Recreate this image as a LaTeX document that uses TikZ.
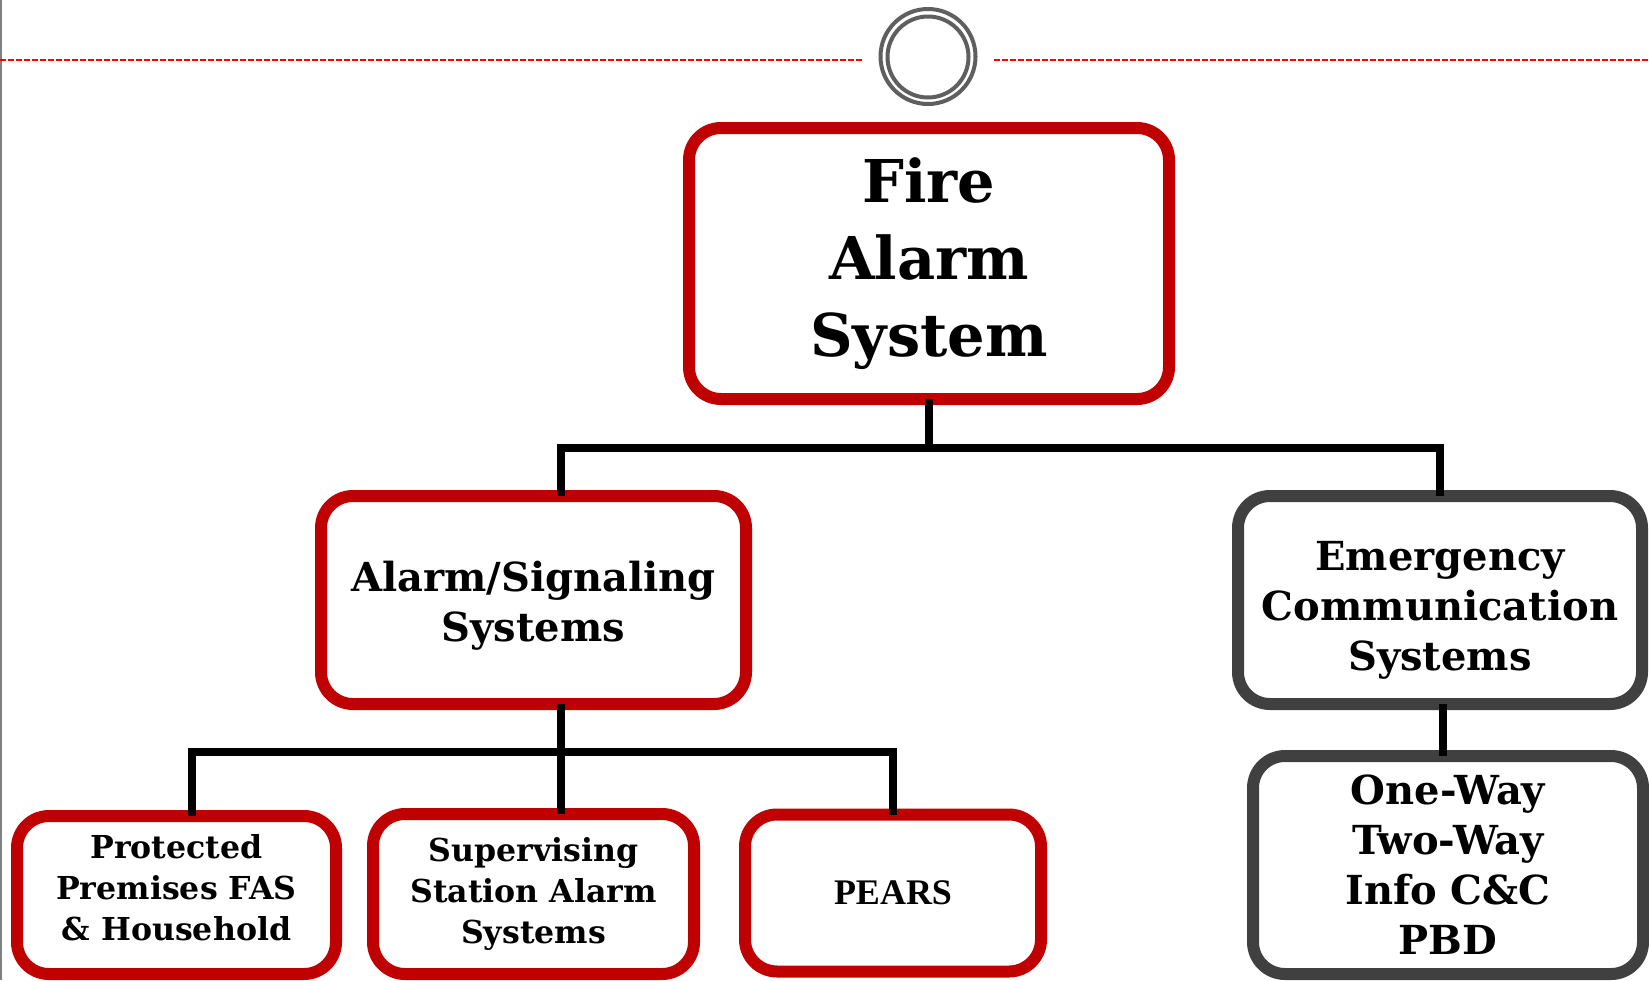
\documentclass[tikz,border=0pt]{standalone}
\usepackage{fontspec}
\setmainfont{DejaVu Serif}
\newfontfamily\timesfont{Liberation Serif}
\usetikzlibrary{positioning}

\definecolor{boxred}{HTML}{C00000}
\definecolor{boxgrey}{HTML}{404040}
\definecolor{ringgrey}{HTML}{5F5F5F}
\definecolor{rulered}{HTML}{FF0000}

\tikzset{
  redbox/.style={draw=boxred, line width=6pt, rounded corners=16pt, fill=white,
    align=center, outer sep=0pt, inner sep=0pt},
  greybox/.style={redbox, draw=boxgrey},
  conn/.style={line width=4pt, black},
  bigtext/.style={font=\fontsize{29.5}{38.5}\selectfont\bfseries},
  midtext/.style={font=\fontsize{20}{25}\selectfont\bfseries},
  smalltext/.style={font=\fontsize{15.8}{20.5}\selectfont\bfseries},
}

\begin{document}
\begin{tikzpicture}[x=0.5pt,y=-0.5pt]
  \useasboundingbox (0,0) rectangle (1649,980);

  % slide header
  \draw[gray, line width=1pt] (1,0) -- (1,980);
  \draw[rulered, line width=1pt, dash pattern=on 3pt off 1pt] (0,60) -- (864,60);
  \draw[rulered, line width=1pt, dash pattern=on 3pt off 1pt] (994,60) -- (1649,60);
  \draw[ringgrey, line width=2pt] (928,56.5) circle[radius=23.75pt];
  \draw[ringgrey, line width=2pt] (928,57) circle[radius=20.25pt];

  % boxes
  \node[redbox, bigtext, minimum width=240pt, minimum height=135.5pt] (fire) at (929,263.5)
    {Fire\\Alarm\\System};
  \node[redbox, midtext, minimum width=212.5pt, minimum height=104pt, text height=45.5pt] (alarm) at (533.5,600)
    {Alarm/Signaling\\Systems};
  \node[greybox, midtext, minimum width=202pt, minimum height=104pt, text height=75pt] (emerg) at (1440,600)
    {Emergency\\Communication\\Systems};
  \node[redbox, smalltext, minimum width=159.5pt, minimum height=79pt, text depth=7.5pt] (prot) at (176.5,895)
    {Protected\\Premises FAS\\\& Household};
  \node[redbox, smalltext, minimum width=160.5pt, minimum height=80pt] (superv) at (533.5,894)
    {Supervising\\Station Alarm\\Systems};
  \node[redbox, font=\timesfont\fontsize{18}{22}\selectfont\bfseries,
    minimum width=148pt, minimum height=78.5pt] (pears) at (893,893) {PEARS};
  \node[greybox, midtext, minimum width=195pt, minimum height=109pt] (pbd) at (1448,865)
    {One-Way\\Two-Way\\Info C\&C\\PBD};

  % connectors
  \coordinate (top) at (929,448);
  \coordinate (mid) at (561,752);
  \draw[conn] (fire.south) -- (top);
  \draw[conn] (top) -| ([xshift=13.75pt]alarm.north);
  \draw[conn] (top) -| (emerg.north);
  \draw[conn] ([xshift=13.75pt]alarm.south) -- (mid);
  \draw[conn] (mid) -| ([xshift=7.75pt]prot.north);
  \draw[conn] (mid) -- ([xshift=13.75pt]superv.north);
  \draw[conn] (mid) -| (pears.north);
  \draw[conn] ([xshift=1.5pt]emerg.south) -- ([xshift=1.5pt]emerg.south |- pbd.north);
\end{tikzpicture}
\end{document}
